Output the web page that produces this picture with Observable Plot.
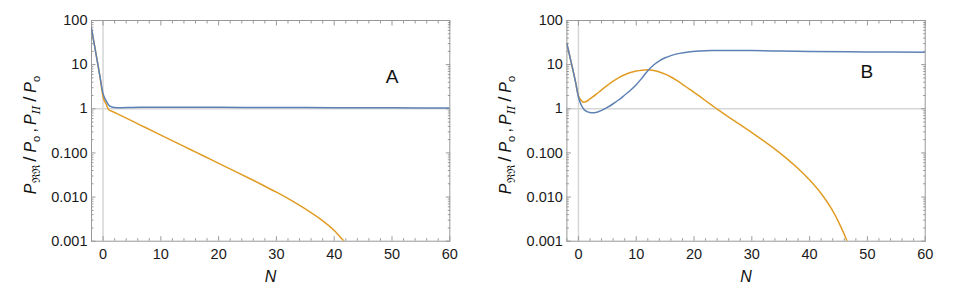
<!DOCTYPE html>
<html><head><meta charset="utf-8">
<script src="https://cdn.jsdelivr.net/npm/d3@7"></script>
<script src="https://cdn.jsdelivr.net/npm/@observablehq/plot@0.6"></script>
<style>
body{margin:0;background:#fff;}
#wrap{display:flex;width:958px;height:298px;}
svg{display:block}
</style></head><body><div id="wrap"></div>
<script>
// ---------- data ----------
const nBlueA   = [-2,-1.5,-1,-0.5,0,0.5,1,1.5,2,3,5,10,15,20,30,40,50,60];
const blueA    = [65,28,12,5,2.2,1.55,1.2,1.1,1.07,1.06,1.07,1.09,1.09,1.08,1.07,1.06,1.05,1.04];
const nOrangeA = [-2,-1.5,-1,-0.5,0,0.5,0.95,1.5,2.4,5,7.5,10,12.5,15,17.5,20,22.5,25,27.5,30,32.5,35,37.5,40,41.4,43];
const orangeA  = [65,28,12,5,1.85,1.3,0.96,0.887,0.776,0.53,0.366,0.2535,0.1754,0.1213,0.0839,0.0581,0.0402,0.0278,0.01905,0.01288,0.00851,0.00537,0.00324,0.00174,0.0011,0.00063];

const nBlueB   = [-2,-1.5,-1,-0.5,0,0.5,1,1.5,2.3,3,4,5,6,7,8,9,10,11,12,13,14,15,16,17.5,19,21,23,26,30,35,40,50,60];
const blueB    = [30,15.5,8,4,1.85,1.2,0.95,0.86,0.81,0.82,0.92,1.08,1.3,1.6,2.05,2.63,3.5,5.0,7.25,9.8,12.2,14.3,16,18,19.4,20.4,20.9,21.0,20.8,20.3,19.9,19.4,19.2];
const nOrangeB = [-2,-1.5,-1,-0.5,0,0.4,0.85,1.5,2,3,4,5,6,7,8,9,10,11,12,13,14,15,16,17,18,19,20,21,22,23,24,25,26,28,30,32,34,36,38,40,42,43.8,45,46.3,47.5];
const orangeB  = [30,15.5,8,4,1.95,1.6,1.4,1.5,1.68,2.1,2.69,3.4,4.22,5.07,5.89,6.61,7.16,7.5,7.62,7.38,6.84,6.1,5.25,4.39,3.59,2.9,2.36,1.9,1.52,1.22,0.98,0.795,0.648,0.435,0.29,0.19,0.1216,0.075,0.0442,0.0243,0.012,0.00537,0.00275,0.00115,0.00045];

// ---------- ticks ----------
const yTicks      = [0.001,0.01,0.1,1,10,100];
const yTickLabels = ["0.001","0.010","0.100","1","10","100"];
const xTicks      = [0,10,20,30,40,50,60];
const xMinor      = d3.range(-2,61,2).filter(v => v % 10 !== 0);
const yMinor      = [0.001,0.01,0.1,1,10].flatMap(d => d3.range(2,10).map(k => k*d));

const BLUE = "#5E81B5", ORANGE = "#E19C24", FRAME = "#999", GRID = "#d6d6d6";

function panel({nBlue, blue, nOrange, orange, letter, marginLeft, marginRight, letterDx, letterDy}) {
  const blueRows = nBlue.map((n,i) => ({n, v: blue[i]}));
  const orangeRows = nOrange.map((n,i) => ({n, v: orange[i]}));
  const tickAxes = [];
  for (const [t, s] of [[xTicks, 4.5], [xMinor, 2.5]]) {
    tickAxes.push(Plot.axisX(t, {anchor: "bottom", tickSize: s, dy: -s, fill: "none", stroke: FRAME}));
    tickAxes.push(Plot.axisX(t, {anchor: "top", tickSize: s, dy: s, fill: "none", stroke: FRAME}));
  }
  for (const [t, s] of [[yTicks, 4.5], [yMinor, 2.5]]) {
    tickAxes.push(Plot.axisY(t, {anchor: "left", tickSize: s, dx: s, fill: "none", stroke: FRAME}));
    tickAxes.push(Plot.axisY(t, {anchor: "right", tickSize: s, dx: -s, fill: "none", stroke: FRAME}));
  }
  const svg = Plot.plot({
    width: 479, height: 298,
    marginLeft, marginRight, marginTop: 20, marginBottom: 57.3,
    style: {fontFamily: "'Liberation Sans', Arial, sans-serif", fontSize: "14.5px", color: "#1a1a1a", background: "#fff"},
    x: {domain: [-2, 60]},
    y: {type: "log", domain: [0.001, 100]},
    marks: [
      Plot.ruleX([0], {stroke: GRID, strokeWidth: 1.5}),
      Plot.ruleY([1], {stroke: GRID, strokeWidth: 1.5}),
      Plot.frame({stroke: FRAME}),
      ...tickAxes,
      Plot.axisX(xTicks, {anchor: "bottom", tickSize: 0, tickPadding: 8, label: null}),
      Plot.axisY(yTicks, {anchor: "left", tickSize: 0, tickPadding: 4, label: null,
        tickFormat: v => yTickLabels[yTicks.indexOf(v)]}),
      Plot.line(orangeRows, {x: "n", y: "v", stroke: ORANGE, strokeWidth: 1.5, curve: "monotone-x", clip: true}),
      Plot.line(blueRows, {x: "n", y: "v", stroke: BLUE, strokeWidth: 1.5, curve: "monotone-x", clip: true}),
      Plot.text([letter], {frameAnchor: "top-right", dx: letterDx, dy: letterDy, textAnchor: "middle", lineAnchor: "middle", fontSize: 19, fill: "#111"}),
      Plot.text(["N"], {frameAnchor: "bottom", dy: 36, lineAnchor: "middle", fontSize: 16, fontStyle: "italic", fill: "#111"})
    ]
  });
  // y-axis label with subscripts
  const s = d3.select(svg);
  const t = s.append("text")
    .attr("transform", `translate(${marginLeft - 55},${20 + 115}) rotate(-90)`)
    .attr("text-anchor", "middle")
    .attr("fill", "#111")
    .style("font-family", "'Liberation Sans', Arial, sans-serif")
    .style("font-size", "16px");
  const parts = [
    ["P", {fs: "italic"}], ["ℜℜ", {sub: true, fam: "'DejaVu Serif', serif"}],
    ["\u2009/\u2009", {size: 19}], ["P", {fs: "italic"}], ["o", {sub: true}],
    ["\u2009,\u2009", {}], ["P", {fs: "italic"}], ["II", {sub: true, fs: "italic", fam: "'DejaVu Serif', serif"}],
    ["\u2009/\u2009", {size: 19}], ["P", {fs: "italic"}], ["o", {sub: true}]
  ];
  let shifted = false;
  for (const [txt, o] of parts) {
    const sp = t.append("tspan").text(txt);
    if (o.fs) sp.style("font-style", o.fs);
    if (o.fam) sp.style("font-family", o.fam);
    if (o.size) sp.style("font-size", o.size + "px");
    if (o.sub) { sp.style("font-size", "11px"); if (!shifted) { sp.attr("dy", 4); shifted = true; } }
    else if (shifted) { sp.attr("dy", -4); shifted = false; }
  }
  return svg;
}

const wrap = document.getElementById("wrap");
wrap.appendChild(panel({nBlue: nBlueA, blue: blueA, nOrange: nOrangeA, orange: orangeA, letter: "A",
  marginLeft: 91, marginRight: 29.7, letterDx: -57.6, letterDy: 56.7}));
wrap.appendChild(panel({nBlue: nBlueB, blue: blueB, nOrange: nOrangeB, orange: orangeB, letter: "B",
  marginLeft: 87.4, marginRight: 33.3, letterDx: -58.4, letterDy: 51.7}));
</script></body></html>
